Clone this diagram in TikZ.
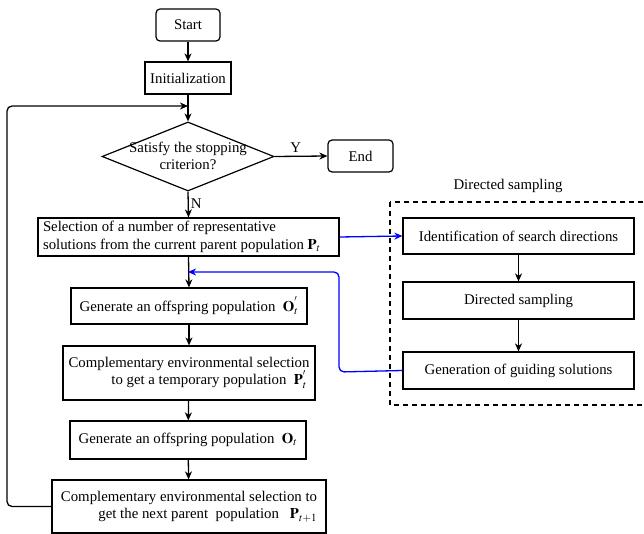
\documentclass[tikz,border=0pt]{standalone}
\usepackage{mathptmx}
\usepackage[no-math]{fontspec}
\setmainfont{Liberation Serif}
\usetikzlibrary{shapes.geometric,arrows.meta}
\begin{document}
\begin{tikzpicture}[x=1pt,y=-1pt,
  every node/.style={font=\fontsize{14.8}{17.5}\selectfont},
  box/.style={draw,line width=1.2pt,inner sep=0pt},
  rbox/.style={box,rounded corners=4pt},
  arr/.style={line width=1.3pt,-{Stealth[length=8pt,width=7pt,inset=2.5pt]}},
  barr/.style={arr,draw={rgb,255:red,0;green,0;blue,255}},
  ln/.style={line width=1.2pt}]
\useasboundingbox (0,0) rectangle (644,534);
% left column
\node[rbox,minimum width=64pt,minimum height=32pt] (start) at (188,25) {Start};
\node[box,minimum width=86pt,minimum height=32pt] (init) at (188,78) {Initialization};
\node[box,diamond,aspect=2.49,minimum width=172pt,minimum height=69pt] (dia) at (188,156.5) {};
\node[align=center] (diat) at (188,156) {Satisfy the stopping\\criterion?};
\node[rbox,minimum width=65pt,minimum height=32pt] (end) at (360.5,156) {End};
\node[box,text width=291pt,inner xsep=5pt,minimum height=38pt,align=flush left] (sel) at (188.5,237)
  {Selection of a number of representative\\solutions from the current parent population $\mathbf{P}_t$};
\node[box,minimum width=236pt,minimum height=36pt] (gen1) at (189,306)
  {Generate an offspring population \ $\mathbf{O}_t^{'}$};
\node[box,minimum width=252pt,minimum height=54pt,align=right] (comp1) at (189,373)
  {Complementary environmental selection\\to get a temporary population \ $\mathbf{P}_t^{'}$\,};
\node[box,minimum width=236pt,minimum height=38pt] (gen2) at (188,440)
  {Generate an offspring population \ $\mathbf{O}_t$};
\node[box,minimum width=274pt,minimum height=53pt,align=right] (comp2) at (189,506.5)
  {Complementary environmental selection to\\get the next parent \ population \ \ $\mathbf{P}_{t+1}$};
% right column
\node (dstitle) at (508,186) {Directed sampling};
\draw[ln,dash pattern=on 5pt off 4pt] (390,202) rectangle (660,405);
\node[box,minimum width=231pt,minimum height=36pt] (ident) at (518.5,236) {Identification of search directions};
\node[box,minimum width=231pt,minimum height=37pt] (dsamp) at (518.5,300.5) {Directed sampling};
\node[box,minimum width=231pt,minimum height=37pt] (guid) at (518.5,370.5) {Generation of guiding solutions};
% connectors
\coordinate (j1) at (188,106);
\coordinate (j2) at (188,272);
\draw[arr] (start) -- (init);
\draw[arr] (init) -- (dia.north);
\draw[arr] (dia.east) -- node[above,pos=0.4] (ylab) {Y} (end.west);
\draw[arr] (dia.south) -- node[right,pos=0.45,inner sep=2pt] (nlab) {N} (sel.north);
\draw[arr] (sel.south) -- (gen1.north);
\draw[arr] (gen1) -- (comp1);
\draw[arr] (comp1) -- (gen2);
\draw[arr] (gen2) -- (comp2);
\draw[arr,rounded corners=5pt] (comp2.west) -- (7,506.5) -- (7,106) -- (j1);
\draw[arr] (ident) -- (dsamp);
\draw[arr] (dsamp) -- (guid);
\draw[barr] (sel.east) -- (ident.west);
\draw[barr,rounded corners=5pt] (guid.west) -- (339,372) -- (339,272) -- (j2);
\end{tikzpicture}
\end{document}
